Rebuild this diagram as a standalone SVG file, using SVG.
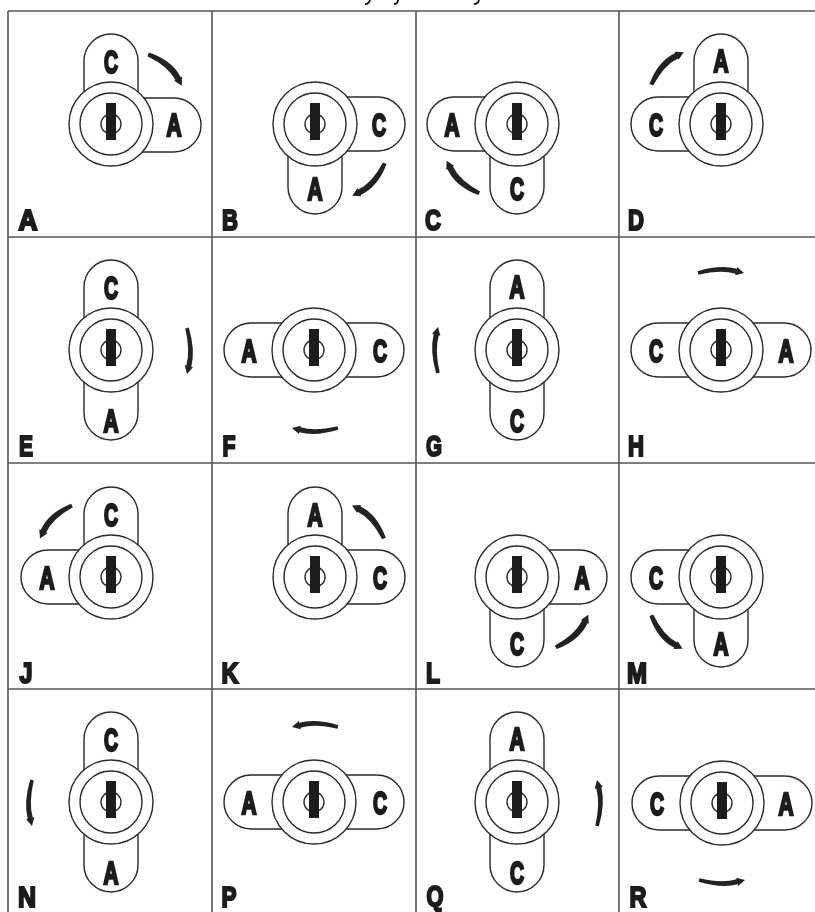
<svg xmlns="http://www.w3.org/2000/svg" width="815" height="912" viewBox="0 0 815 912">
<style>
.grid{stroke:#555;stroke-width:1.6;fill:none}
.ol{stroke:#2a2a2a;stroke-width:1.4;fill:#fff}
.arr{fill:#222}
.t{font-family:"Liberation Sans",Arial,sans-serif;font-weight:700;fill:#1c1c1c;stroke:#1c1c1c;text-anchor:middle}
.k{font-size:32px;stroke-width:2.6}
.c{font-size:30px;stroke-width:2.2}
.frag{stroke:#111;stroke-width:1.8;fill:none}
</style>
<defs>
<filter id="soft" x="-5%" y="-5%" width="110%" height="110%"><feGaussianBlur stdDeviation="0.4"/></filter>
<path id="ad" d="M-23.7 -1.9Q-1 -12 16.5 -5.4L17 -6.8L23 0L14 1.6L14.5 .2Q0 -5 -22.3 1.9Z"/>
<path id="as" d="M-23.4 -1.75Q-1 -8.5 15.8 -4.3L16.2 -5.9L23 0L14.2 2.3L14.6 .7Q0 -3.5 -22.6 1.75Z"/>
<rect id="tu" class="ol" x="-27" y="-90" width="54" height="90" rx="27"/>
<rect id="td" class="ol" x="-27" y="0" width="54" height="90" rx="27"/>
<rect id="tl" class="ol" x="-90" y="-27" width="90" height="54" rx="27"/>
<rect id="tr" class="ol" x="0" y="-27" width="90" height="54" rx="27"/>
<g id="lock">
<circle class="ol" r="42"/>
<circle class="ol" r="31"/>
<circle class="ol" r="10"/>
<rect x="-5" y="-21" width="10" height="37" fill="#1a1a1a"/>
</g>
</defs>
<rect width="815" height="912" fill="#fff"/>
<g id="top-fragments"><path class="frag" d="M370 0Q369 4 365 4M398 0Q398 4 394 4M479 0Q478 4 474 4"/></g>
<g id="grid">
<path class="grid" d="M8 11H815M8 237H815M8 463H815M8 689H815M8 11V912M212 11V912M416 11V912M619 11V912"/>
</g>
<g filter="url(#soft)">
<g id="cell-A"><use href="#tu" x="111" y="124"/><use href="#tr" x="111" y="125"/><use href="#lock" x="111" y="124"/><text class="t k" x="111" y="73" textLength="14" lengthAdjust="spacingAndGlyphs">C</text><text class="t k" x="174" y="136" textLength="15" lengthAdjust="spacingAndGlyphs">A</text><text class="t c" x="28" y="230" textLength="19" lengthAdjust="spacingAndGlyphs">A</text></g>
<g id="cell-B"><use href="#tr" x="315" y="124"/><use href="#td" x="315" y="124"/><use href="#lock" x="315" y="124"/><text class="t k" x="379" y="136" textLength="14" lengthAdjust="spacingAndGlyphs">C</text><text class="t k" x="315" y="200" textLength="15" lengthAdjust="spacingAndGlyphs">A</text><text class="t c" x="230" y="230" textLength="16" lengthAdjust="spacingAndGlyphs">B</text></g>
<g id="cell-C"><use href="#tl" x="517" y="124"/><use href="#td" x="517" y="124"/><use href="#lock" x="517" y="124"/><text class="t k" x="452" y="136" textLength="15" lengthAdjust="spacingAndGlyphs">A</text><text class="t k" x="517" y="200" textLength="14" lengthAdjust="spacingAndGlyphs">C</text><text class="t c" x="433" y="230" textLength="16" lengthAdjust="spacingAndGlyphs">C</text></g>
<g id="cell-D"><use href="#tl" x="721" y="124"/><use href="#tu" x="721" y="124"/><use href="#lock" x="721" y="124"/><text class="t k" x="656" y="136" textLength="14" lengthAdjust="spacingAndGlyphs">C</text><text class="t k" x="721" y="72" textLength="15" lengthAdjust="spacingAndGlyphs">A</text><text class="t c" x="636" y="230" textLength="16" lengthAdjust="spacingAndGlyphs">D</text></g>
<g id="cell-E"><use href="#tu" x="111" y="350"/><use href="#td" x="111" y="350"/><use href="#lock" x="111" y="350"/><text class="t k" x="111" y="299" textLength="14" lengthAdjust="spacingAndGlyphs">C</text><text class="t k" x="111" y="432" textLength="15" lengthAdjust="spacingAndGlyphs">A</text><text class="t c" x="26" y="456" textLength="14" lengthAdjust="spacingAndGlyphs">E</text></g>
<g id="cell-F"><use href="#tl" x="314" y="350"/><use href="#tr" x="314" y="350"/><use href="#lock" x="314" y="350"/><text class="t k" x="249" y="362" textLength="15" lengthAdjust="spacingAndGlyphs">A</text><text class="t k" x="380" y="362" textLength="14" lengthAdjust="spacingAndGlyphs">C</text><text class="t c" x="229" y="456" textLength="13" lengthAdjust="spacingAndGlyphs">F</text></g>
<g id="cell-G"><use href="#tu" x="517" y="350"/><use href="#td" x="517" y="350"/><use href="#lock" x="517" y="350"/><text class="t k" x="517" y="298" textLength="15" lengthAdjust="spacingAndGlyphs">A</text><text class="t k" x="517" y="432" textLength="14" lengthAdjust="spacingAndGlyphs">C</text><text class="t c" x="434" y="456" textLength="16" lengthAdjust="spacingAndGlyphs">G</text></g>
<g id="cell-H"><use href="#tl" x="721" y="350"/><use href="#tr" x="721" y="350"/><use href="#lock" x="721" y="350"/><text class="t k" x="656" y="362" textLength="14" lengthAdjust="spacingAndGlyphs">C</text><text class="t k" x="786" y="362" textLength="15" lengthAdjust="spacingAndGlyphs">A</text><text class="t c" x="636" y="456" textLength="16" lengthAdjust="spacingAndGlyphs">H</text></g>
<g id="cell-J"><use href="#tu" x="111" y="577"/><use href="#tl" x="111" y="577"/><use href="#lock" x="111" y="577"/><text class="t k" x="111" y="526" textLength="14" lengthAdjust="spacingAndGlyphs">C</text><text class="t k" x="47" y="589" textLength="15" lengthAdjust="spacingAndGlyphs">A</text><text class="t c" x="26" y="683" textLength="13" lengthAdjust="spacingAndGlyphs">J</text></g>
<g id="cell-K"><use href="#tu" x="315" y="577"/><use href="#tr" x="315" y="577"/><use href="#lock" x="315" y="577"/><text class="t k" x="315" y="526" textLength="15" lengthAdjust="spacingAndGlyphs">A</text><text class="t k" x="380" y="589" textLength="14" lengthAdjust="spacingAndGlyphs">C</text><text class="t c" x="230" y="683" textLength="17" lengthAdjust="spacingAndGlyphs">K</text></g>
<g id="cell-L"><use href="#tr" x="517" y="577"/><use href="#td" x="517" y="577"/><use href="#lock" x="517" y="577"/><text class="t k" x="582" y="589" textLength="15" lengthAdjust="spacingAndGlyphs">A</text><text class="t k" x="517" y="655" textLength="14" lengthAdjust="spacingAndGlyphs">C</text><text class="t c" x="433" y="683" textLength="14" lengthAdjust="spacingAndGlyphs">L</text></g>
<g id="cell-M"><use href="#tl" x="721" y="577"/><use href="#td" x="721" y="577"/><use href="#lock" x="721" y="577"/><text class="t k" x="656" y="589" textLength="14" lengthAdjust="spacingAndGlyphs">C</text><text class="t k" x="721" y="655" textLength="15" lengthAdjust="spacingAndGlyphs">A</text><text class="t c" x="637" y="683" textLength="20" lengthAdjust="spacingAndGlyphs">M</text></g>
<g id="cell-N"><use href="#tu" x="111" y="802"/><use href="#td" x="111" y="802"/><use href="#lock" x="111" y="802"/><text class="t k" x="111" y="751" textLength="14" lengthAdjust="spacingAndGlyphs">C</text><text class="t k" x="111" y="884" textLength="15" lengthAdjust="spacingAndGlyphs">A</text><text class="t c" x="27" y="907" textLength="18" lengthAdjust="spacingAndGlyphs">N</text></g>
<g id="cell-P"><use href="#tl" x="314" y="802"/><use href="#tr" x="314" y="802"/><use href="#lock" x="314" y="802"/><text class="t k" x="249" y="814" textLength="15" lengthAdjust="spacingAndGlyphs">A</text><text class="t k" x="380" y="814" textLength="14" lengthAdjust="spacingAndGlyphs">C</text><text class="t c" x="229" y="907" textLength="15" lengthAdjust="spacingAndGlyphs">P</text></g>
<g id="cell-Q"><use href="#tu" x="517" y="802"/><use href="#td" x="517" y="802"/><use href="#lock" x="517" y="802"/><text class="t k" x="517" y="750" textLength="15" lengthAdjust="spacingAndGlyphs">A</text><text class="t k" x="517" y="884" textLength="14" lengthAdjust="spacingAndGlyphs">C</text><text class="t c" x="435" y="906" textLength="17" lengthAdjust="spacingAndGlyphs">Q</text></g>
<g id="cell-R"><use href="#tl" x="722" y="803"/><use href="#tr" x="722" y="803"/><use href="#lock" x="722" y="803"/><text class="t k" x="657" y="815" textLength="14" lengthAdjust="spacingAndGlyphs">C</text><text class="t k" x="786" y="815" textLength="15" lengthAdjust="spacingAndGlyphs">A</text><text class="t c" x="638" y="907" textLength="17" lengthAdjust="spacingAndGlyphs">R</text></g>
<g id="connectors" class="arr">
<use href="#ad" transform="translate(165 70) rotate(43)"/>
<use href="#ad" transform="translate(368.5 179.5) rotate(135)"/>
<use href="#ad" transform="translate(463 177) rotate(225)"/>
<use href="#ad" transform="translate(667.5 68.5) rotate(-45)"/>
<use href="#as" transform="translate(187 351) rotate(90)"/>
<use href="#as" transform="translate(315 428) rotate(180)"/>
<use href="#as" transform="translate(438 350) rotate(-90)"/>
<use href="#as" transform="translate(721 273)"/>
<use href="#ad" transform="translate(56 522) rotate(134) scale(1 -1)"/>
<use href="#ad" transform="translate(368 522) rotate(226) scale(1 -1)"/>
<use href="#ad" transform="translate(572 631) rotate(-45) scale(1 -1)"/>
<use href="#ad" transform="translate(667 632) rotate(47) scale(1 -1)"/>
<use href="#as" transform="translate(32 803) rotate(90) scale(1 -1)"/>
<use href="#as" transform="translate(315 727) rotate(180) scale(1 -1)"/>
<use href="#as" transform="translate(597 803) rotate(-90) scale(1 -1)"/>
<use href="#as" transform="translate(722 880) scale(1 -1)"/>
</g>
</g>
</svg>
